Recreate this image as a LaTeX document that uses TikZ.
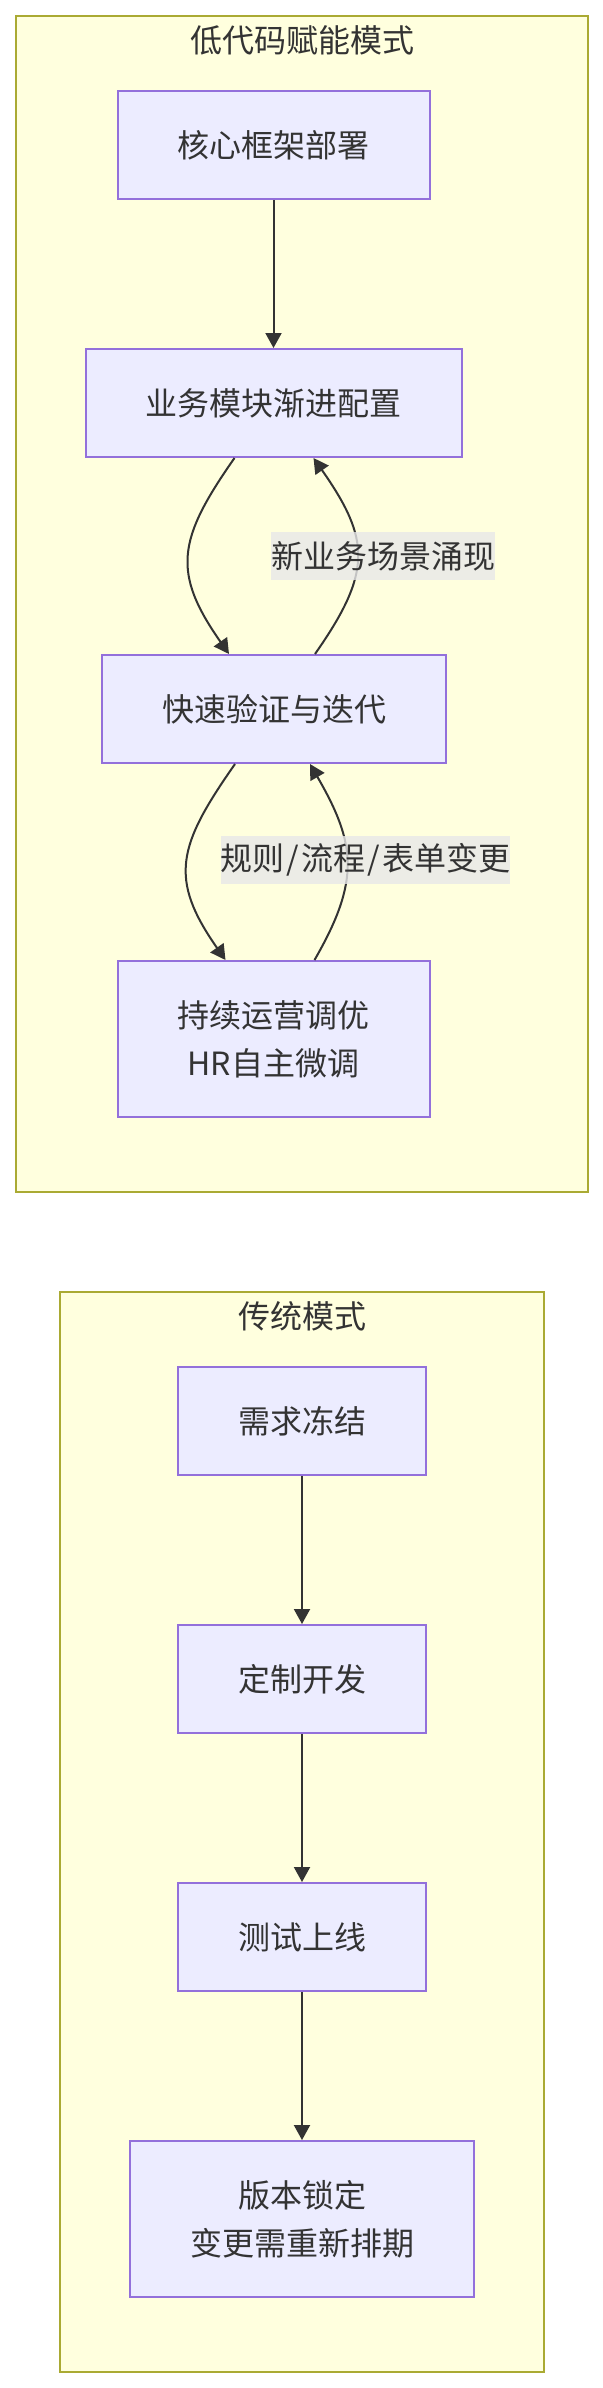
\documentclass[tikz,border=0pt]{standalone}
\usepackage{fontspec}
\setmainfont{Noto Sans CJK SC}
\usetikzlibrary{arrows.meta,positioning}
\definecolor{clusterfill}{HTML}{FFFFDE}
\definecolor{clusterdraw}{HTML}{AAAA33}
\definecolor{nodefill}{HTML}{ECECFF}
\definecolor{nodedraw}{HTML}{9370DB}
\definecolor{ink}{HTML}{333333}
\definecolor{labelfill}{HTML}{E8E8E8}

\begin{document}
\begin{tikzpicture}[
    x=50pt, y=50pt,
    >={Triangle[length=7.5pt,width=8pt]},
    font=\fontsize{16pt}{24pt}\selectfont,
    text=ink,
    cluster/.style={
        draw=clusterdraw,
        fill=clusterfill,
        line width=1pt
    },
    box/.style={
        draw=nodedraw,
        fill=nodefill,
        line width=1pt,
        align=center,
        inner xsep=30pt,
        inner ysep=0pt,
        minimum height=54pt
    },
    tallbox/.style={box, minimum height=78pt},
    flow/.style={->, draw=ink, line width=1pt},
    edgelabel/.style={
        fill=labelfill,
        fill opacity=0.8,
        text opacity=1,
        inner sep=0pt,
        minimum height=24pt
    }
]
\useasboundingbox (0,0) rectangle (6.03,-23.88);

\draw[cluster] (0.16,-0.16) rectangle (5.88,-11.92);
\node (lowcodetitle) at (3.02,-0.40) {低代码赋能模式};

\node[box] (core) at (2.735,-1.45) {核心框架部署};
\node[box] (modcfg) at (2.735,-4.03) {业务模块渐进配置};
\node[box] (verify) at (2.74,-7.09) {快速验证与迭代};
\node[tallbox] (operate) at (2.735,-10.39) {持续运营调优\\HR自主微调};

\draw[flow] (core) -- (modcfg);
\draw[flow] ([xshift=-19.5pt]modcfg.south) to[out=235,in=125,looseness=1.3] ([xshift=-22.5pt]verify.north);
\draw[flow] ([xshift=20.5pt]verify.north) to[out=55,in=-55,looseness=1.3] ([xshift=20pt]modcfg.south);
\draw[flow] ([xshift=-19.5pt]verify.south) to[out=235,in=125,looseness=1.3] ([xshift=-24pt]operate.north);
\draw[flow] ([xshift=20.5pt]operate.north) to[out=60,in=-60,looseness=1.2] ([xshift=18pt]verify.south);

\node[edgelabel] (newscene) at (3.83,-5.56) {新业务场景涌现};
\node[edgelabel, minimum width=144.5pt] (rulechange) at (3.655,-8.60) {规则\kern1pt/\kern1pt流程\kern1pt/\kern1pt表单变更};

\draw[cluster] (0.60,-12.92) rectangle (5.44,-23.72);
\node (classictitle) at (3.02,-13.16) {传统模式};

\node[box] (freeze) at (3.02,-14.21) {需求冻结};
\node[box] (custom) at (3.02,-16.79) {定制开发};
\node[box] (golive) at (3.02,-19.37) {测试上线};
\node[tallbox] (lockver) at (3.02,-22.19) {版本锁定\\变更需重新排期};

\draw[flow] (freeze) -- (custom);
\draw[flow] (custom) -- (golive);
\draw[flow] (golive) -- (lockver);
\end{tikzpicture}
\end{document}
